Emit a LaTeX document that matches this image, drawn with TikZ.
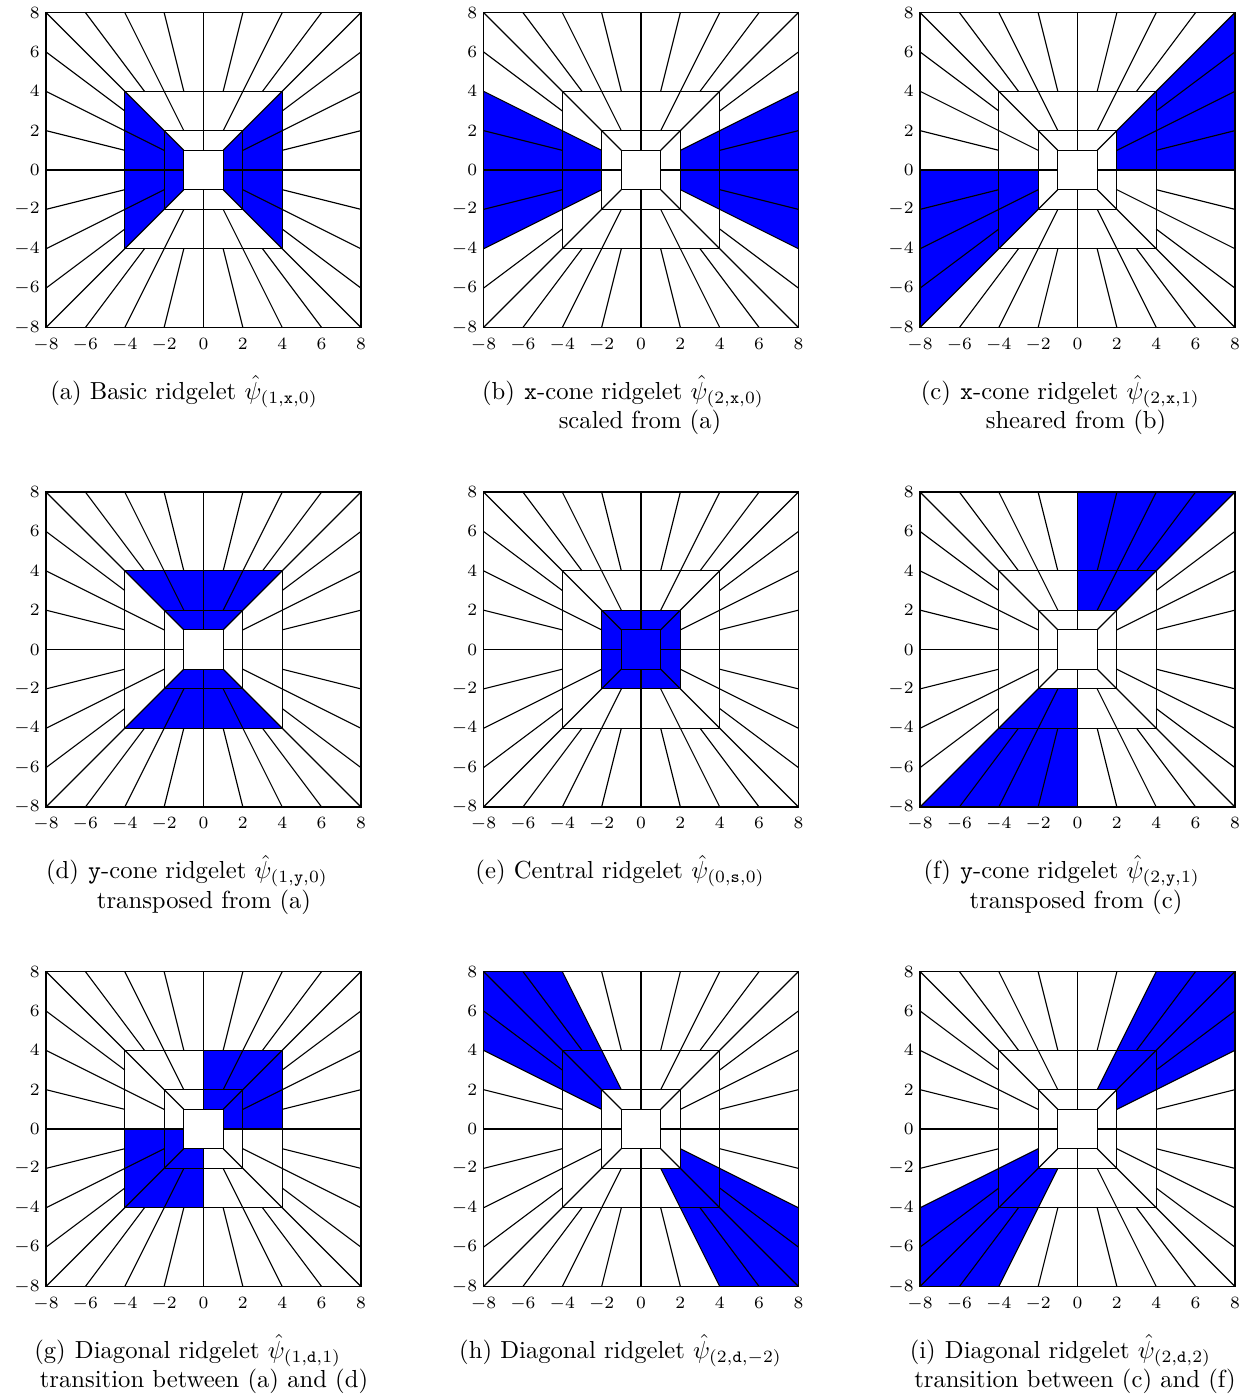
\documentclass[tikz,border=0pt]{standalone}
\usepackage{amsmath}
\definecolor{ridgeblue}{RGB}{0,0,255}
\tikzset{
  gridline/.style={line width=0.45pt, draw=black},
  ticklab/.style={font=\fontsize{7.3}{8}\selectfont, inner sep=0pt},
  captext/.style={inner sep=0pt, anchor=base},
}
\newcommand\ridgegrid{%
  \draw[gridline] (-8,-8) rectangle (8,8) (-4,-4) rectangle (4,4)
                  (-2,-2) rectangle (2,2) (-1,-1) rectangle (1,1);
  \foreach \k in {-4,...,4}{
    \draw[gridline] (4,\k)--(8,{2*\k}) (-4,\k)--(-8,{2*\k});
  }
  \foreach \k in {-3,...,3}{
    \draw[gridline] (\k,4)--({2*\k},8) (\k,-4)--({2*\k},-8);
  }
  \foreach \k in {-2,...,2}{
    \draw[gridline] (2,\k)--(4,{2*\k}) (-2,\k)--(-4,{2*\k});
  }
  \foreach \k in {-1,0,1}{
    \draw[gridline] (\k,2)--({2*\k},4) (\k,-2)--({2*\k},-4);
    \draw[gridline] (1,\k)--(2,{2*\k}) (-1,\k)--(-2,{2*\k});
  }
  \draw[gridline] (0,1)--(0,2) (0,-1)--(0,-2);
}
\newcommand\ticklabels[1]{%
  \foreach \t [count=\i] in {-8,-6,...,8}{
    \node[ticklab, anchor=base] (#1x\i) at (\t,-9.1) {$\t$};
    \node[ticklab, anchor=east] (#1y\i) at (-8.3,\t) {$\t$};
  }
}
\newcommand\ridgepanel[4]{%
  \begin{scope}[shift={(#2,#3)}]
  \begin{scope}[x=7.988pt,y=7.988pt]
    #4
    \ridgegrid
    \ticklabels{#1}
  \end{scope}
  \end{scope}
}
\begin{document}
\begin{tikzpicture}[x=0.4057pt,y=-0.4057pt]
\useasboundingbox (0,0) rectangle (1247,1395);

% row 1
\ridgepanel{pa}{203.5}{170}{%
  \fill[ridgeblue] (-1,-1)--(-1,1)--(-4,4)--(-4,-4)--cycle;
  \fill[ridgeblue] (1,-1)--(1,1)--(4,4)--(4,-4)--cycle;}
\ridgepanel{pb}{641}{170}{%
  \fill[ridgeblue] (2,1)--(8,4)--(8,-4)--(2,-1)--cycle;
  \fill[ridgeblue] (-2,1)--(-8,4)--(-8,-4)--(-2,-1)--cycle;}
\ridgepanel{pc}{1077.5}{170}{%
  \fill[ridgeblue] (2,0)--(2,2)--(8,8)--(8,0)--cycle;
  \fill[ridgeblue] (-2,0)--(-2,-2)--(-8,-8)--(-8,0)--cycle;}

% row 2
\ridgepanel{pd}{203.5}{649.5}{%
  \fill[ridgeblue] (-1,1)--(1,1)--(4,4)--(-4,4)--cycle;
  \fill[ridgeblue] (-1,-1)--(1,-1)--(4,-4)--(-4,-4)--cycle;}
\ridgepanel{pe}{641}{649.5}{%
  \fill[ridgeblue] (-2,-2) rectangle (2,2);}
\ridgepanel{pf}{1077.5}{649.5}{%
  \fill[ridgeblue] (0,2)--(2,2)--(8,8)--(0,8)--cycle;
  \fill[ridgeblue] (0,-2)--(-2,-2)--(-8,-8)--(0,-8)--cycle;}

% row 3
\ridgepanel{pg}{203.5}{1129}{%
  \fill[ridgeblue] (0,0) rectangle (4,4);
  \fill[ridgeblue] (-4,-4) rectangle (0,0);
  \fill[white] (-1,-1) rectangle (1,1);}
\ridgepanel{ph}{641}{1129}{%
  \fill[ridgeblue] (-1,2)--(-2,2)--(-2,1)--(-8,4)--(-8,8)--(-4,8)--cycle;
  \fill[ridgeblue] (1,-2)--(2,-2)--(2,-1)--(8,-4)--(8,-8)--(4,-8)--cycle;}
\ridgepanel{pi}{1077.5}{1129}{%
  \fill[ridgeblue] (1,2)--(2,2)--(2,1)--(8,4)--(8,8)--(4,8)--cycle;
  \fill[ridgeblue] (-1,-2)--(-2,-2)--(-2,-1)--(-8,-4)--(-8,-8)--(-4,-8)--cycle;}

% captions row 1
\node[captext] (capa) at (184,399) {(a) Basic ridgelet $\hat{\psi}_{(1,\mathtt{x},0)}$};
\node[captext] (capb1) at (644,399) {\texttt{x}-cone ridgelet $\hat{\psi}_{(2,\mathtt{x},0)}$};
\node[captext, anchor=base east] (capbl) at ([xshift=-3.33pt]capb1.base west) {(b)};
\node[captext] (capb2) at (640,428.6) {scaled from (a)};
\node[captext] (capc1) at (1080,399) {\texttt{x}-cone ridgelet $\hat{\psi}_{(2,\mathtt{x},1)}$};
\node[captext, anchor=base east] (capcl) at ([xshift=-3.33pt]capc1.base west) {(c)};
\node[captext] (capc2) at (1076,428.6) {sheared from (b)};

% captions row 2
\node[captext] (capd1) at (208,878.5) {\texttt{y}-cone ridgelet $\hat{\psi}_{(1,\mathtt{y},0)}$};
\node[captext, anchor=base east] (capdl) at ([xshift=-3.33pt]capd1.base west) {(d)};
\node[captext] (capd2) at (204,908.1) {transposed from (a)};
\node[captext] (cape) at (620,878.5) {(e) Central ridgelet $\hat{\psi}_{(0,\mathtt{s},0)}$};
\node[captext] (capf1) at (1080,878.5) {\texttt{y}-cone ridgelet $\hat{\psi}_{(2,\mathtt{y},1)}$};
\node[captext, anchor=base east] (capfl) at ([xshift=-3.33pt]capf1.base west) {(f)};
\node[captext] (capf2) at (1076,908.1) {transposed from (c)};

% captions row 3
\node[captext] (capg1) at (208,1358) {Diagonal ridgelet $\hat{\psi}_{(1,\mathtt{d},1)}$};
\node[captext, anchor=base east] (capgl) at ([xshift=-3.33pt]capg1.base west) {(g)};
\node[captext] (capg2) at (204,1387.6) {transition between (a) and (d)};
\node[captext] (caph) at (620.5,1358) {(h) Diagonal ridgelet $\hat{\psi}_{(2,\mathtt{d},-2)}$};
\node[captext] (capi1) at (1078,1358) {Diagonal ridgelet $\hat{\psi}_{(2,\mathtt{d},2)}$};
\node[captext, anchor=base east] (capil) at ([xshift=-3.33pt]capi1.base west) {(i)};
\node[captext] (capi2) at (1075,1387.6) {transition between (c) and (f)};
\end{tikzpicture}
\end{document}
